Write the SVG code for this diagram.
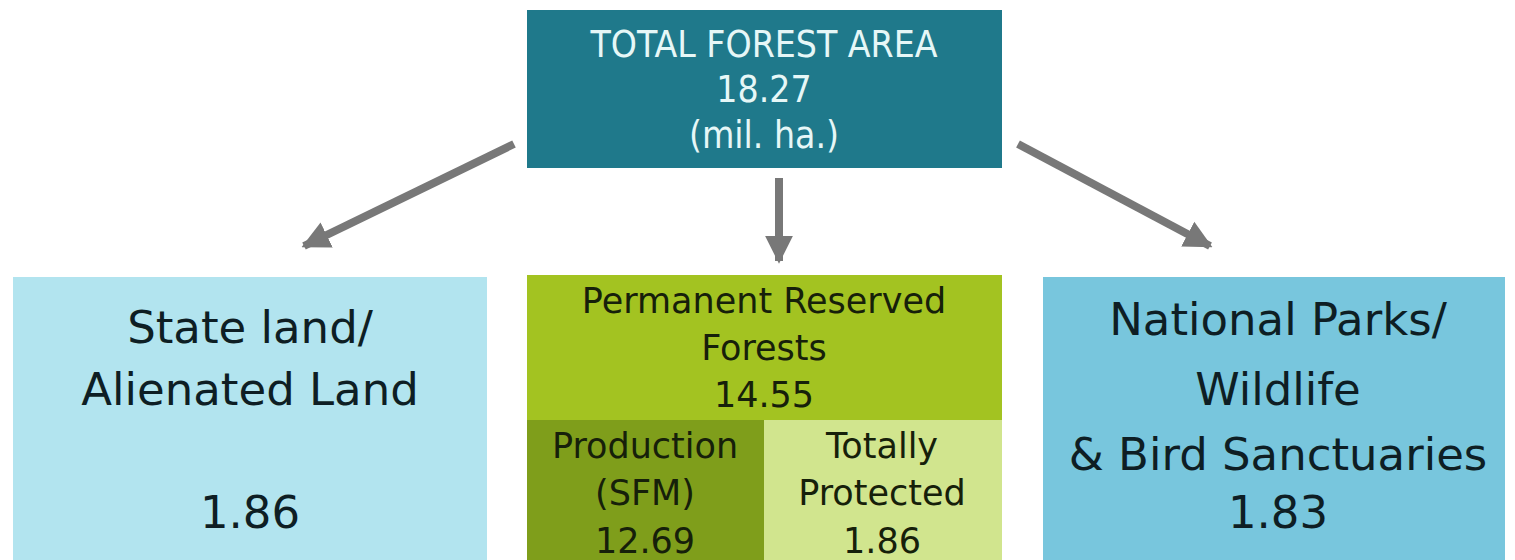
<svg xmlns="http://www.w3.org/2000/svg" width="1515" height="560" viewBox="0 0 1515 560">
<style>
text{font-family:"DejaVu Sans","Open Sans",sans-serif;text-anchor:middle}
.lt{fill:#e6f7f7;font-size:37px;font-family:"DejaVu Sans Condensed","DejaVu Sans",sans-serif}
.dk{fill:#0e1e24;font-size:45px}
.md{fill:#16200a;font-size:35px}
.conn{stroke:#787878;stroke-width:8;fill:none}
</style>
<defs>
<marker id="ah" viewBox="0 0 10 10" refX="9" refY="5" markerWidth="3.5" markerHeight="3.6" orient="auto" markerUnits="strokeWidth">
<path d="M0,0 L10,5 L0,10 z" fill="#787878"/>
</marker>
</defs>
<rect width="1515" height="560" fill="#ffffff"/>
<g id="connectors">
<line class="conn" x1="514" y1="144" x2="304" y2="246" marker-end="url(#ah)"/>
<line class="conn" x1="779" y1="178" x2="779" y2="261" marker-end="url(#ah)"/>
<line class="conn" x1="1018" y1="144" x2="1210" y2="246" marker-end="url(#ah)"/>
</g>
<g id="total">
<rect x="527" y="10" width="475" height="158" fill="#1f798b"/>
<text class="lt" x="764" y="57">TOTAL FOREST AREA</text>
<text class="lt" x="764" y="102">18.27</text>
<text class="lt" x="764" y="148">(mil. ha.)</text>
</g>
<g id="state">
<rect x="13" y="277" width="474" height="283" fill="#b2e4ef"/>
<text class="dk" x="250" y="343">State land/</text>
<text class="dk" x="250" y="405">Alienated Land</text>
<text class="dk" x="250" y="528">1.86</text>
</g>
<g id="prf">
<rect x="527" y="275" width="475" height="145" fill="#a3c321"/>
<text class="md" x="764" y="313">Permanent Reserved</text>
<text class="md" x="764" y="360">Forests</text>
<text class="md" x="764" y="407">14.55</text>
</g>
<g id="production">
<rect x="527" y="420" width="237" height="140" fill="#7f9e1b"/>
<text class="md" x="645" y="458">Production</text>
<text class="md" x="645" y="505">(SFM)</text>
<text class="md" x="645" y="553">12.69</text>
</g>
<g id="protected">
<rect x="764" y="420" width="238" height="140" fill="#d1e58e"/>
<text class="md" x="882" y="458">Totally</text>
<text class="md" x="882" y="505">Protected</text>
<text class="md" x="882" y="553">1.86</text>
</g>
<g id="parks">
<rect x="1043" y="277" width="462" height="283" fill="#78c6dd"/>
<text class="dk" x="1278" y="335">National Parks/</text>
<text class="dk" x="1278" y="405">Wildlife</text>
<text class="dk" x="1278" y="470">&amp; Bird Sanctuaries</text>
<text class="dk" x="1278" y="528">1.83</text>
</g>
</svg>
